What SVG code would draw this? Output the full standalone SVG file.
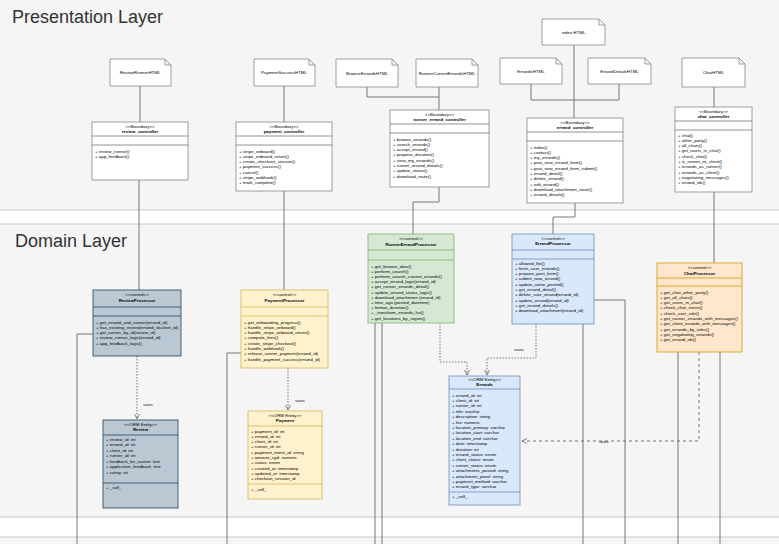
<svg xmlns="http://www.w3.org/2000/svg" width="779" height="544" viewBox="0 0 779 544">
<style>
.t{font-family:"Liberation Sans",Arial,sans-serif;font-size:4.4px;fill:#000}
.c{text-anchor:middle}
.b{font-weight:bold}
.title{font-family:"Liberation Sans",Arial,sans-serif;font-size:18px;fill:#333}
.band{fill:#f5f5f5;stroke:#c8c8c8;stroke-width:1}
.ln{fill:none;stroke:#777;stroke-width:1}
.dot{stroke-dasharray:1.5 1.5}
.dash{stroke-dasharray:3 3}
.note{fill:#fff;stroke:#888;stroke-width:0.8}
.bd{fill:#fff;stroke:#888;stroke-width:0.8}
.dv{stroke-width:0.8}
.rv{fill:#bac8d3;stroke:#23445d;stroke-width:0.8}
.py{fill:#fff2cc;stroke:#d6b656;stroke-width:0.8}
.gr{fill:#d5e8d4;stroke:#82b366;stroke-width:0.8}
.bl{fill:#dae8fc;stroke:#6c8ebf;stroke-width:0.8}
.or{fill:#ffe6cc;stroke:#d79b00;stroke-width:0.8}
</style>
<defs>
<marker id="arr" markerWidth="6" markerHeight="6" refX="5" refY="3" orient="auto" markerUnits="userSpaceOnUse">
<path d="M0,0.5 L5,3 L0,5.5" fill="none" stroke="#666" stroke-width="0.8"/>
</marker>
</defs>
<rect x="-2" y="-2" width="783" height="212" class="band"/>
<text x="12" y="23" class="title">Presentation Layer</text>
<rect x="-2" y="224" width="783" height="293" class="band"/>
<text x="15" y="247" class="title">Domain Layer</text>
<rect x="-2" y="537" width="783" height="20" class="band"/>

<g id="connectors">
<path class="ln" d="M140,86 V122"/>
<path class="ln" d="M284,86 V122"/>
<path class="ln" d="M367,87 V97 H439 V110 M439,87 V97"/>
<path class="ln" d="M574,45 V118 M531,84 V100 H619 V84"/>
<path class="ln" d="M714,87 V107"/>
<path class="ln" d="M139,180 V290"/>
<path class="ln" d="M284,191 V290"/>
<path class="ln" d="M439,187 V202 H413 V234"/>
<path class="ln" d="M575,203 V217 H553 V234"/>
<path class="ln" d="M714,192 V263"/>
<path class="ln" d="M93,334 H77 V544"/>
<path class="ln" d="M241,353 H227 V544"/>
<path class="ln dot" d="M137,356 V419" marker-end="url(#arr)"/>
<path class="ln dot" d="M288,368 V410" marker-end="url(#arr)"/>
<path class="ln dot" d="M440,323 V362 H467 V375" marker-end="url(#arr)"/>
<path class="ln dot" d="M536,324 V358 H487 V375" marker-end="url(#arr)"/>
<path class="ln dash" d="M699,352 V441 H522" marker-end="url(#arr)"/>
<path class="ln" d="M375,323 V544 M382,323 V544"/>
<path class="ln" d="M583,324 V544 M594,300 H625 V544"/>
<path class="ln" d="M678,352 V544 M720,352 V544"/>
<text x="148" y="406" class="t c">uses</text>
<text x="300" y="402" class="t c">uses</text>
<text x="519" y="351" class="t c">uses</text>
<text x="604" y="443" class="t c">uses</text>
</g>

<g id="ReviewRunnerHTML"><path class="note" d="M110,59 H165 L171,65 V86 H110 Z M165,59 V65 H171"/><text x="140" y="74" class="t c">ReviewRunnerHTML</text></g>
<g id="PaymentSuccessHTML"><path class="note" d="M254,59 H309 L315,65 V86 H254 Z M309,59 V65 H315"/><text x="284" y="74" class="t c">PaymentSuccessHTML</text></g>
<g id="BrowseErrandsHTML"><path class="note" d="M336,59 H392 L398,65 V87 H336 Z M392,59 V65 H398"/><text x="367" y="74.5" class="t c">BrowseErrandsHTML</text></g>
<g id="RunnerCurrentErrandsHTML"><path class="note" d="M416,59 H472 L478,65 V87 H416 Z M472,59 V65 H478"/><text x="447" y="74.5" class="t c">RunnerCurrentErrandsHTML</text></g>
<g id="indexHTML"><path class="note" d="M542,19 H599 L605,25 V45 H542 Z M599,19 V25 H605"/><text x="573.5" y="33.5" class="t c">index.HTML</text></g>
<g id="ErrandsHTML"><path class="note" d="M500,58 H556 L562,64 V84 H500 Z M556,58 V64 H562"/><text x="531" y="72.5" class="t c">ErrandsHTML</text></g>
<g id="ErrandDetailsHTML"><path class="note" d="M588,58 H645 L651,64 V84 H588 Z M645,58 V64 H651"/><text x="619.5" y="72.5" class="t c">ErrandDetailsHTML</text></g>
<g id="ChatHTML"><path class="note" d="M682,58 H739 L745,64 V87 H682 Z M739,58 V64 H745"/><text x="713.5" y="74" class="t c">ChatHTML</text></g>

<g id="review_controller"><rect x="92" y="122" width="96" height="58" class="bd"/><path class="ln dv" d="M92,136 H188 M92,145 H188"/>
<text x="140" y="127.5" class="t c">&lt;&lt;Boundary&gt;&gt;</text><text x="140" y="132.5" class="t c b">review_controller</text>
<text class="t"><tspan x="95" y="152.5">+ review_runner()</tspan><tspan x="95" dy="5.3">+ app_feedback()</tspan></text></g>

<g id="payment_controller"><rect x="236" y="122" width="96" height="69" class="bd"/><path class="ln dv" d="M236,136 H332 M236,145 H332"/>
<text x="284" y="127.5" class="t c">&lt;&lt;Boundary&gt;&gt;</text><text x="284" y="132.5" class="t c b">payment_controller</text>
<text class="t"><tspan x="239" y="152.5">+ stripe_onboard()</tspan><tspan x="239" dy="5.3">+ stripe_onboard_return()</tspan><tspan x="239" dy="5.3">+ create_checkout_session()</tspan><tspan x="239" dy="5.3">+ payment_success()</tspan><tspan x="239" dy="5.3">+ cancel()</tspan><tspan x="239" dy="5.3">+ stripe_webhook()</tspan><tspan x="239" dy="5.3">+ mark_complete()</tspan></text></g>

<g id="runner_errand_controller"><rect x="390" y="110" width="99" height="77" class="bd"/><path class="ln dv" d="M390,124 H489 M390,133 H489"/>
<text x="439.5" y="115.5" class="t c">&lt;&lt;Boundary&gt;&gt;</text><text x="439.5" y="120.5" class="t c b">runner_errand_controller</text>
<text class="t"><tspan x="393" y="140.5">+ browse_errands()</tspan><tspan x="393" dy="5.3">+ search_errands()</tspan><tspan x="393" dy="5.3">+ accept_errand()</tspan><tspan x="393" dy="5.3">+ propose_duration()</tspan><tspan x="393" dy="5.3">+ view_my_errands()</tspan><tspan x="393" dy="5.3">+ runner_errand_details()</tspan><tspan x="393" dy="5.3">+ update_status()</tspan><tspan x="393" dy="5.3">+ download_route()</tspan></text></g>

<g id="errand_controller"><rect x="527" y="118" width="96" height="85" class="bd"/><path class="ln dv" d="M527,132 H623 M527,141 H623"/>
<text x="575" y="123.5" class="t c">&lt;&lt;Boundary&gt;&gt;</text><text x="575" y="128.5" class="t c b">errand_controller</text>
<text class="t"><tspan x="530" y="148.5">+ index()</tspan><tspan x="530" dy="5.3">+ contact()</tspan><tspan x="530" dy="5.3">+ my_errands()</tspan><tspan x="530" dy="5.3">+ post_new_errand_form()</tspan><tspan x="530" dy="5.3">+ post_new_errand_form_submit()</tspan><tspan x="530" dy="5.3">+ errand_detail()</tspan><tspan x="530" dy="5.3">+ delete_errand()</tspan><tspan x="530" dy="5.3">+ edit_errand()</tspan><tspan x="530" dy="5.3">+ download_attachment_route()</tspan><tspan x="530" dy="5.3">+ errand_details()</tspan></text></g>

<g id="chat_controller"><rect x="675" y="107" width="77" height="85" class="bd"/><path class="ln dv" d="M675,121 H752 M675,130 H752"/>
<text x="713.5" y="112.5" class="t c">&lt;&lt;Boundary&gt;&gt;</text><text x="713.5" y="117.5" class="t c b">chat_controller</text>
<text class="t"><tspan x="678" y="136.5">+ chat()</tspan><tspan x="678" dy="5.3">+ other_party()</tspan><tspan x="678" dy="5.3">+ all_chats()</tspan><tspan x="678" dy="5.3">+ get_users_in_chat()</tspan><tspan x="678" dy="5.3">+ check_chat()</tspan><tspan x="678" dy="5.3">+ is_runner_or_client()</tspan><tspan x="678" dy="5.3">+ errands_as_runner()</tspan><tspan x="678" dy="5.3">+ errands_as_client()</tspan><tspan x="678" dy="5.3">+ negotiating_messages()</tspan><tspan x="678" dy="5.3">+ errand_ids()</tspan></text></g>

<g id="ReviewProcessor"><rect x="93" y="290" width="88" height="66" class="rv"/><path class="rv" d="M93,307 H181 M93,316 H181"/>
<text x="137" y="296" class="t c">&lt;&lt;control&gt;&gt;</text><text x="137" y="302" class="t c b">ReviewProcessor</text>
<text class="t"><tspan x="96" y="323.5">+ get_errand_and_runner(errand_id)</tspan><tspan x="96" dy="5.3">+ has_existing_review(errand_id,client_id)</tspan><tspan x="96" dy="5.3">+ get_runner_by_id(review_id)</tspan><tspan x="96" dy="5.3">+ review_runner_logic(errand_id)</tspan><tspan x="96" dy="5.3">+ app_feedback_logic()</tspan></text></g>

<g id="PaymentProcessor"><rect x="241" y="290" width="87" height="78" class="py"/><path class="py" d="M241,307 H328 M241,316 H328"/>
<text x="284.5" y="296" class="t c">&lt;&lt;control&gt;&gt;</text><text x="284.5" y="302" class="t c b">PaymentProcessor</text>
<text class="t"><tspan x="244" y="323.5">+ get_onboarding_progress()</tspan><tspan x="244" dy="5.3">+ handle_stripe_onboard()</tspan><tspan x="244" dy="5.3">+ handle_stripe_onboard_return()</tspan><tspan x="244" dy="5.3">+ compute_fees()</tspan><tspan x="244" dy="5.3">+ create_stripe_checkout()</tspan><tspan x="244" dy="5.3">+ handle_webhook()</tspan><tspan x="244" dy="5.3">+ release_runner_payment(errand_id)</tspan><tspan x="244" dy="5.3">+ handle_payment_success(errand_id)</tspan></text></g>

<g id="RunnerErrandProcessor"><rect x="368" y="234" width="86" height="89" class="gr"/><path class="gr" d="M368,250 H454 M368,260 H454"/>
<text x="411" y="239.5" class="t c">&lt;&lt;control&gt;&gt;</text><text x="411" y="245.5" class="t c b">RunnerErrandProcessor</text>
<text class="t"><tspan x="371" y="267.5">+ get_browse_data()</tspan><tspan x="371" dy="5.2">+ perform_search()</tspan><tspan x="371" dy="5.2">+ perform_search_current_errands()</tspan><tspan x="371" dy="5.2">+ accept_errand_logic(errand_id)</tspan><tspan x="371" dy="5.2">+ get_runner_errands_detail()</tspan><tspan x="371" dy="5.2">+ update_errand_status_logic()</tspan><tspan x="371" dy="5.2">+ download_attachment (errand_id)</tspan><tspan x="371" dy="5.2">+ time_ago (posted_datetime)</tspan><tspan x="371" dy="5.2">+ format_duration()</tspan><tspan x="371" dy="5.2">+ _transform_errands_list()</tspan><tspan x="371" dy="5.2">+ get_locations_by_region()</tspan></text></g>

<g id="ErrandProcessor"><rect x="512" y="234" width="82" height="90" class="bl"/><path class="bl" d="M512,250 H594 M512,259 H594"/>
<text x="553" y="239.5" class="t c">&lt;&lt;control&gt;&gt;</text><text x="553" y="245" class="t c b">ErrandProcessor</text>
<text class="t"><tspan x="515" y="264.5">+ allowed_file()</tspan><tspan x="515" dy="5.3">+ fetch_user_errands()</tspan><tspan x="515" dy="5.3">+ prepare_post_form()</tspan><tspan x="515" dy="5.3">+ submit_new_errand()</tspan><tspan x="515" dy="5.3">+ update_value_posted()</tspan><tspan x="515" dy="5.3">+ get_errand_detail()</tspan><tspan x="515" dy="5.3">+ delete_user_errand(errand_id)</tspan><tspan x="515" dy="5.3">+ update_errand(errand_id)</tspan><tspan x="515" dy="5.3">+ get_errand_details()</tspan><tspan x="515" dy="5.3">+ download_attachment(errand_id)</tspan></text></g>

<g id="ChatProcessor"><rect x="657" y="263" width="85" height="89" class="or"/><path class="or" d="M657,278 H742 M657,286 H742"/>
<text x="699.5" y="269" class="t c">&lt;&lt;control&gt;&gt;</text><text x="699.5" y="274.5" class="t c b">ChatProcessor</text>
<text class="t"><tspan x="660" y="293.5">+ get_chat_other_party()</tspan><tspan x="660" dy="5.3">+ get_all_chats()</tspan><tspan x="660" dy="5.3">+ get_users_in_chat()</tspan><tspan x="660" dy="5.3">+ check_chat_exists()</tspan><tspan x="660" dy="5.3">+ check_user_role()</tspan><tspan x="660" dy="5.3">+ get_runner_errands_with_messages()</tspan><tspan x="660" dy="5.3">+ get_client_errands_with_messages()</tspan><tspan x="660" dy="5.3">+ get_errands_by_roles()</tspan><tspan x="660" dy="5.3">+ get_negotiating_errands()</tspan><tspan x="660" dy="5.3">+ get_errand_ids()</tspan></text></g>

<g id="Review"><rect x="103" y="420" width="75" height="88" class="rv"/><path class="rv" d="M103,435 H178 M103,483 H178"/>
<text x="140.5" y="425.5" class="t c">&lt;&lt;ORM Entity&gt;&gt;</text><text x="140.5" y="430.5" class="t c b">Review</text>
<text class="t"><tspan x="106" y="440.5">+ review_id: int</tspan><tspan x="106" dy="5.5">+ errand_id: int</tspan><tspan x="106" dy="5.5">+ client_id: int</tspan><tspan x="106" dy="5.5">+ runner_id: int</tspan><tspan x="106" dy="5.5">+ feedback_for_runner: text</tspan><tspan x="106" dy="5.5">+ application_feedback: text</tspan><tspan x="106" dy="5.5">+ rating: int</tspan></text>
<text x="106" y="489" class="t">+ _self_</text></g>

<g id="Payment"><rect x="248" y="411" width="74" height="88" class="py"/><path class="py" d="M248,426 H322 M248,484 H322"/>
<text x="285" y="416.5" class="t c">&lt;&lt;ORM Entity&gt;&gt;</text><text x="285" y="421.5" class="t c b">Payment</text>
<text class="t"><tspan x="251" y="432.5">+ payment_id: int</tspan><tspan x="251" dy="5.3">+ errand_id: int</tspan><tspan x="251" dy="5.3">+ client_id: int</tspan><tspan x="251" dy="5.3">+ runner_id: int</tspan><tspan x="251" dy="5.3">+ payment_intent_id: string</tspan><tspan x="251" dy="5.3">+ amount_sgd: numeric</tspan><tspan x="251" dy="5.3">+ status: enum</tspan><tspan x="251" dy="5.3">+ created_at: timestamp</tspan><tspan x="251" dy="5.3">+ updated_at: timestamp</tspan><tspan x="251" dy="5.3">+ checkout_session_id</tspan></text>
<text x="251" y="490.5" class="t">+ _self_</text></g>

<g id="Errands"><rect x="449" y="376" width="71" height="129" class="bl"/><path class="bl" d="M449,389 H520 M449,492 H520"/>
<text x="484.5" y="380.5" class="t c">&lt;&lt;ORM Entity&gt;&gt;</text><text x="484.5" y="385.5" class="t c b">Errands</text>
<text class="t"><tspan x="452" y="396.5">+ errand_id: int</tspan><tspan x="452" dy="5.4">+ client_id: int</tspan><tspan x="452" dy="5.4">+ runner_id: int</tspan><tspan x="452" dy="5.4">+ title: varchar</tspan><tspan x="452" dy="5.4">+ description: string</tspan><tspan x="452" dy="5.4">+ fee: numeric</tspan><tspan x="452" dy="5.4">+ location_primary: varchar</tspan><tspan x="452" dy="5.4">+ location_start: varchar</tspan><tspan x="452" dy="5.4">+ location_end: varchar</tspan><tspan x="452" dy="5.4">+ date: timestamp</tspan><tspan x="452" dy="5.4">+ duration: int</tspan><tspan x="452" dy="5.4">+ errand_status: enum</tspan><tspan x="452" dy="5.4">+ client_status: enum</tspan><tspan x="452" dy="5.4">+ runner_status: enum</tspan><tspan x="452" dy="5.4">+ attachments_posted: string</tspan><tspan x="452" dy="5.4">+ attachment_proof: string</tspan><tspan x="452" dy="5.4">+ payment_method: varchar</tspan><tspan x="452" dy="5.4">+ errand_type: varchar</tspan></text>
<text x="452" y="497.5" class="t">+ _self_</text></g>
</svg>
